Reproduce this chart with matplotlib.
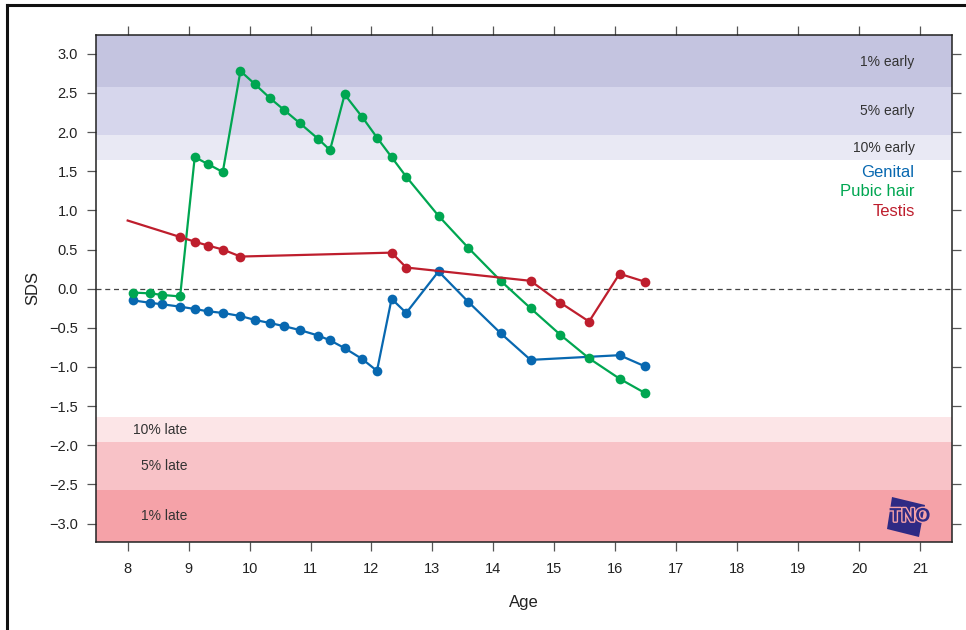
import matplotlib
matplotlib.use("Agg")
import matplotlib.pyplot as plt
from matplotlib.patches import Polygon
from matplotlib.lines import Line2D
import matplotlib.patheffects as pe

plt.rcParams['font.family'] = ['Liberation Sans', 'DejaVu Sans']

# Visit ages (years)
ages = [8.09, 8.36, 8.57, 8.86, 9.10, 9.32, 9.56, 9.85, 10.09, 10.34, 10.57,
        10.83, 11.13, 11.32, 11.56, 11.85, 12.09, 12.33, 12.57, 13.10, 13.59,
        14.12, 14.61, 15.10, 15.57, 16.07, 16.48]

# Genital stage SDS (no assessments at 15.10 and 15.57)
genital_age = ages[:23] + ages[25:]
genital_sds = [-0.15, -0.18, -0.20, -0.23, -0.26, -0.29, -0.31, -0.35, -0.40,
               -0.44, -0.48, -0.53, -0.60, -0.66, -0.76, -0.90, -1.05, -0.13,
               -0.31, 0.22, -0.17, -0.57, -0.91, -0.85, -0.99]

# Pubic hair stage SDS
pubic_age = ages
pubic_sds = [-0.05, -0.06, -0.08, -0.10, 1.68, 1.59, 1.49, 2.78, 2.61, 2.43,
             2.28, 2.11, 1.91, 1.77, 2.48, 2.19, 1.93, 1.68, 1.43, 0.93, 0.52,
             0.10, -0.25, -0.59, -0.89, -1.15, -1.33]

# Testis volume SDS (first value is the reference start, drawn without a dot)
testis_age = [8.0, 8.86, 9.10, 9.32, 9.56, 9.85, 12.33, 12.57, 14.61, 15.10,
              15.57, 16.07, 16.48]
testis_sds = [0.87, 0.66, 0.60, 0.55, 0.50, 0.41, 0.46, 0.27, 0.10, -0.18,
              -0.42, 0.19, 0.09]

# Reference bands (two-sided normal quantiles)
early_bounds = [1.645, 1.96, 2.576]
early_labels = ["10% early", "5% early", "1% early"]
early_colors = ["#e9e9f4", "#d6d6ec", "#c4c4e0"]
late_labels = ["10% late", "5% late", "1% late"]
late_colors = ["#fce5e7", "#f8c2c7", "#f5a2a8"]

x_ticks = list(range(8, 22))
y_ticks = [v / 2 for v in range(-6, 7)]

series_names = ["Genital", "Pubic hair", "Testis"]
series_colors = ["#0868b0", "#00a651", "#be1e2d"]

W, H = 966, 630
fig = plt.figure(figsize=(W / 100, H / 100), dpi=100)
ax = fig.add_axes([96 / W, 1 - 542.3 / H, (951.7 - 96) / W, (542.3 - 35) / H])

ylo, yhi = -3.24, 3.24
ax.set_xlim(7.48, 21.52)
ax.set_ylim(ylo, yhi)

# Shaded reference bands
bounds = early_bounds + [yhi]
for lo, hi, c in zip(bounds[:-1], bounds[1:], early_colors):
    ax.axhspan(lo, hi, color=c, lw=0, zorder=0)
lbounds = [-b for b in early_bounds] + [ylo]
for hi, lo, c in zip(lbounds[:-1], lbounds[1:], late_colors):
    ax.axhspan(lo, hi, color=c, lw=0, zorder=0)

txt_kw = dict(fontsize=10, color="#333333", va="center")
for lab, y in zip(early_labels, [1.80, 2.27, 2.90]):
    ax.text(20.91, y, lab, ha="right", **txt_kw)
for lab, y in zip(late_labels, [-1.81, -2.27, -2.91]):
    ax.text(8.98, y, lab, ha="right", **txt_kw)

for lab, y, c in zip(series_names, [1.485, 1.235, 0.987], series_colors):
    ax.text(20.91, y, lab, ha="right", va="center", fontsize=12, color=c)

ax.axhline(0, color="#444444", lw=0.9, ls=(0, (4, 3)), zorder=1)

line_kw = dict(lw=1.6, marker="o", ms=7.0, mew=0, zorder=3)
ax.plot(genital_age, genital_sds, color=series_colors[0], **line_kw)
ax.plot(pubic_age, pubic_sds, color=series_colors[1], **line_kw)
ax.plot(testis_age, testis_sds, color=series_colors[2],
        markevery=list(range(1, len(testis_age))), **line_kw)

# Axes styling
ax.set_xticks(x_ticks)
ax.set_yticks(y_ticks)
ax.set_yticklabels([f"{v:.1f}".replace("-", "\u2212") for v in y_ticks])
ax.tick_params(axis="both", direction="out", length=6.5, width=0.9,
               color="#555555", labelsize=10.5, labelcolor="#222222",
               top=True, right=True)
ax.tick_params(axis="x", pad=8)
ax.tick_params(axis="y", pad=6.5)
for s in ax.spines.values():
    s.set_linewidth(1.1)
    s.set_color("#222222")

fig.text(33 / W, 1 - 288.5 / H, "SDS", rotation=90, ha="center", va="center",
         fontsize=12, color="#222222")
fig.text(524 / W, 1 - 602 / H, "Age", ha="center", va="center",
         fontsize=12, color="#222222")

# TNO emblem in the lower right corner
def px(x, y):
    return ((x - 96) / (951.7 - 96), (542.3 - y) / (542.3 - 35))

emblem = Polygon([px(892, 497), px(925, 505), px(919, 537), px(887, 529)],
                 closed=True, transform=ax.transAxes, facecolor="#2e2a84",
                 edgecolor="none", zorder=4)
ax.add_patch(emblem)
tx, ty = px(910, 517)
ax.text(tx, ty, "TNO", transform=ax.transAxes, ha="center", va="center",
        fontsize=14, fontweight="bold", color="#2e2a84", zorder=5,
        path_effects=[pe.withStroke(linewidth=2.0, foreground="#f5a2a8")])

# Figure frame
fig.add_artist(Line2D([7 / W, 7 / W], [0, 1 - 5 / H], transform=fig.transFigure,
                      color="#111111", lw=2.2))
fig.add_artist(Line2D([7 / W, 1], [1 - 5 / H, 1 - 5 / H], transform=fig.transFigure,
                      color="#111111", lw=2.2))

fig.savefig("out.png", dpi=100)
